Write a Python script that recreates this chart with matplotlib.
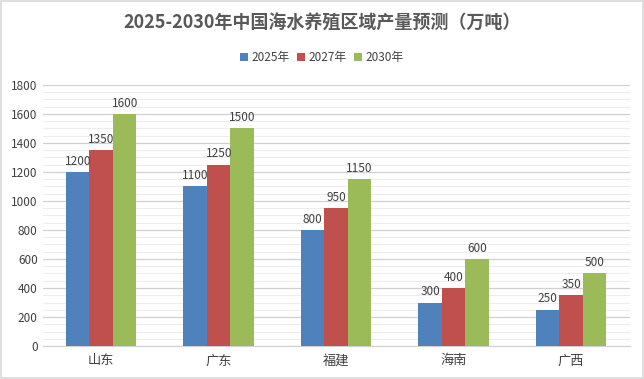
import matplotlib
matplotlib.use("Agg")
import matplotlib.pyplot as plt
import numpy as np
from matplotlib.ticker import MultipleLocator

plt.rcParams['font.family'] = ['Noto Sans CJK SC', 'DejaVu Sans']

regions = ["山东", "广东", "福建", "海南", "广西"]
series_names = ["2025年", "2027年", "2030年"]
v2025 = [1200, 1100, 800, 300, 250]
v2027 = [1350, 1250, 950, 400, 350]
v2030 = [1600, 1500, 1150, 600, 500]
colors = ["#4F81BD", "#C0504D", "#9BBB59"]

fig = plt.figure(figsize=(6.44, 3.79), dpi=100)
fig.patch.set_facecolor("white")
ax = fig.add_axes([0.066, 0.087, 0.912, 0.689])

x = np.arange(len(regions))
w = 0.2
for i, (vals, name, c) in enumerate(zip([v2025, v2027, v2030], series_names, colors)):
    pos = x + (i - 1) * w
    ax.bar(pos, vals, width=w, color=c, label=name, zorder=3)
    for p, v in zip(pos, vals):
        ax.text(p, v + 30, str(v), ha='center', va='bottom', fontsize=8.5, color="#404040", zorder=4)

ax.set_xlim(-0.5, len(regions) - 0.5)
ax.set_ylim(0, 1800)
ax.yaxis.set_major_locator(MultipleLocator(200))
ax.yaxis.set_minor_locator(MultipleLocator(50))
ax.grid(axis='y', which='major', color="#D0D0D0", linewidth=0.9, zorder=0)
ax.grid(axis='y', which='minor', color="#EDEDED", linewidth=0.8, zorder=0)
ax.set_xticks(x)
ax.set_xticklabels(regions, fontsize=9.5, color="#404040")
ax.tick_params(axis='y', labelsize=8.5, colors="#404040", length=0, which='both')
ax.tick_params(axis='x', length=0, pad=6)
for s in ["top", "right", "left"]:
    ax.spines[s].set_visible(False)
ax.spines["bottom"].set_color("#D0D0D0")

fig.text(0.5, 0.94, "2025-2030年中国海水养殖区域产量预测（万吨）", ha='center', va='center',
         fontsize=13, fontweight='bold', color="#595959")
fig.legend(loc='center', bbox_to_anchor=(0.5, 0.848), ncol=3, frameon=False, fontsize=8.5,
           handlelength=0.7, handleheight=0.7, handletextpad=0.3, columnspacing=0.6,
           labelcolor="#404040")

border = plt.Rectangle((0.002, 0.003), 0.996, 0.994, transform=fig.transFigure, fill=False,
                       edgecolor="#D9D9D9", linewidth=1.2)
fig.patches.append(border)

fig.savefig("out.png", dpi=100)
